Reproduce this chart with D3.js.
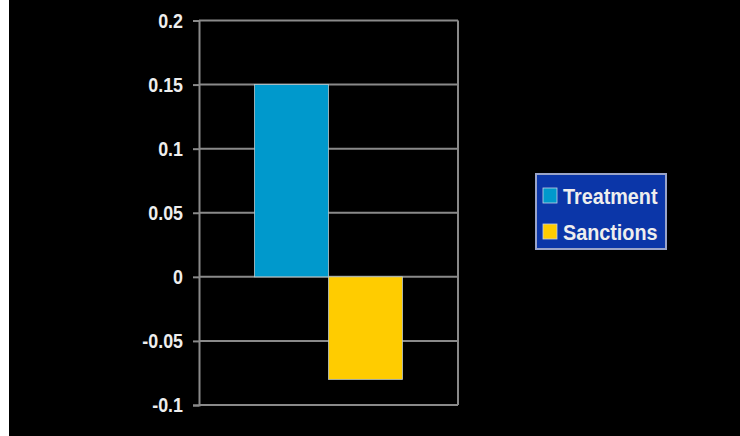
<!DOCTYPE html>
<html>
<head>
<meta charset="utf-8">
<script src="https://cdn.jsdelivr.net/npm/d3@7"></script>
<style>
  html, body { margin: 0; padding: 0; background: #000; }
  svg { display: block; }
</style>
</head>
<body>
<script>
const categories = ["Effect"];
const seriesNames = ["Treatment", "Sanctions"];
const treatmentValues = [0.15];
const sanctionsValues = [-0.08];
const yTicks = [-0.1, -0.05, 0, 0.05, 0.1, 0.15, 0.2];
const colors = ["#0099cc", "#ffcc00"];

(function () {
const W = 740, H = 436;
const FONT = "'Liberation Sans', Arial, sans-serif";
const svg = d3.select("body").append("svg").attr("width", W).attr("height", H);
svg.append("rect").attr("width", W).attr("height", H).attr("fill", "#000");
svg.append("rect").attr("x", 0).attr("y", 0).attr("width", 9).attr("height", H).attr("fill", "#fff");

const pLeft = 199, pRight = 458, pTop = 20.5, pBottom = 405;
const y = d3.scaleLinear().domain([-0.1, 0.2]).range([pBottom, pTop]);
const x0 = d3.scaleBand().domain(categories).range([pLeft, pRight]).paddingInner(0).paddingOuter(0.375);
const x1 = d3.scaleBand().domain(seriesNames).range([0, x0.bandwidth()]);

// gridlines
svg.append("g").selectAll("line").data(yTicks).join("line")
  .attr("x1", pLeft).attr("x2", pRight)
  .attr("y1", d => y(d)).attr("y2", d => y(d))
  .attr("stroke", "#8a8a8a").attr("stroke-width", 2);
// right border
svg.append("line").attr("x1", pRight).attr("x2", pRight).attr("y1", pTop).attr("y2", pBottom)
  .attr("stroke", "#8a8a8a").attr("stroke-width", 2);

// bars
const data = categories.map((c, i) => ({cat: c, vals: [treatmentValues[i], sanctionsValues[i]]}));
const g = svg.append("g");
data.forEach(d => {
  d.vals.forEach((v, j) => {
    g.append("rect")
      .attr("x", x0(d.cat) + x1(seriesNames[j]))
      .attr("y", y(Math.max(0, v)))
      .attr("width", x1.bandwidth())
      .attr("height", Math.abs(y(v) - y(0)))
      .attr("fill", colors[j])
      .attr("stroke", "#b8c8cc").attr("stroke-width", 0.8);
  });
});

// y axis
const yAxis = d3.axisLeft(y).tickValues(yTicks).tickSize(6).tickPadding(10)
  .tickFormat(d => String(+d.toFixed(2)));
const ag = svg.append("g").attr("transform", `translate(${pLeft},0)`).call(yAxis);
ag.select(".domain").attr("stroke", "#8a8a8a").attr("stroke-width", 2);
ag.selectAll(".tick line").attr("stroke", "#8a8a8a").attr("stroke-width", 2);
ag.selectAll(".tick text")
  .attr("fill", "#eeeeee")
  .attr("transform", "translate(-16,0) scale(0.85,1) translate(16,0)")
  .style("font-family", FONT)
  .style("font-weight", "bold")
  .style("font-size", "21px");

// legend
const lg = svg.append("g");
lg.append("rect").attr("x", 536).attr("y", 174).attr("width", 130).attr("height", 75)
  .attr("fill", "#0b36a8").attr("stroke", "#9aa4c8").attr("stroke-width", 2);
seriesNames.forEach((s, i) => {
  const cy = 196 + i * 36;
  lg.append("rect").attr("x", 543).attr("y", cy - 8).attr("width", 14).attr("height", 15)
    .attr("fill", colors[i]).attr("stroke", "#c8d0e0").attr("stroke-width", 0.8);
  lg.append("text").attr("x", 0).attr("y", 0).attr("dy", "0.36em")
    .attr("transform", `translate(563,${cy}) scale(0.9,1)`)
    .attr("fill", "#eeeeee")
    .style("font-family", FONT)
    .style("font-weight", "bold")
    .style("font-size", "22px")
    .text(s);
});
})();
</script>
</body>
</html>
